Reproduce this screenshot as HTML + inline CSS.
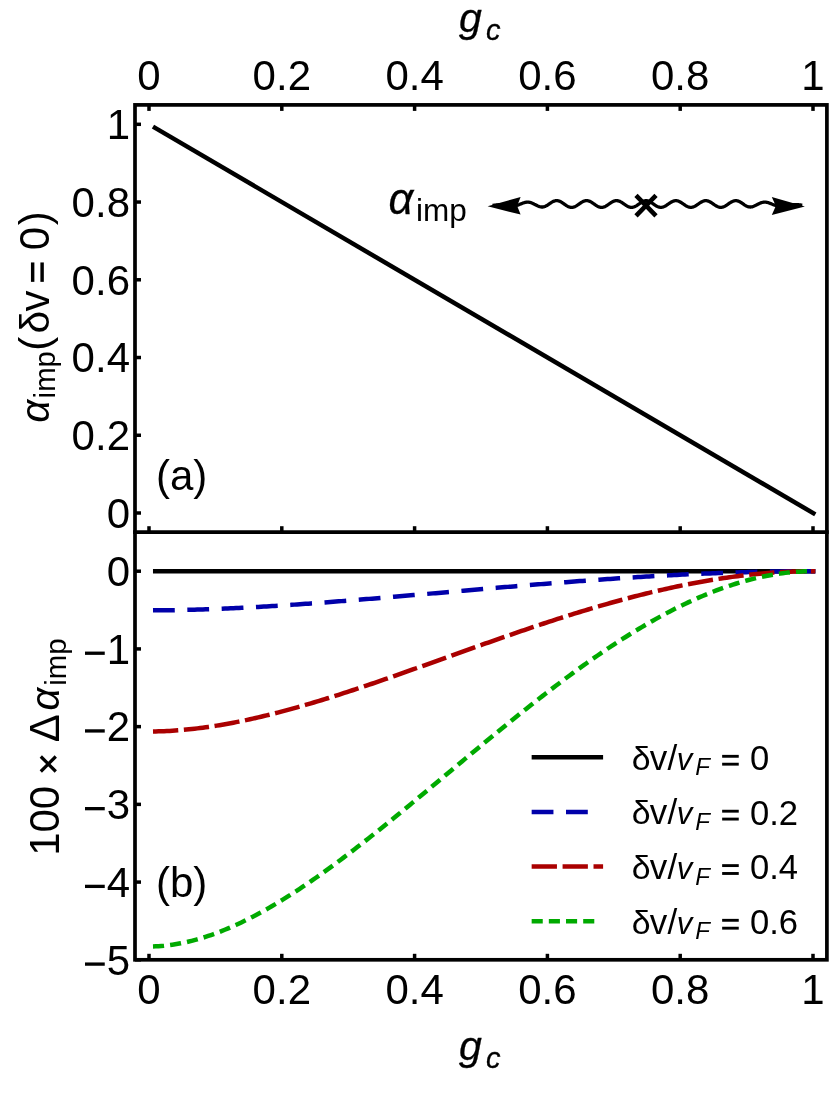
<!DOCTYPE html>
<html><head><meta charset="utf-8"><title>Figure</title>
<style>
html,body{margin:0;padding:0;background:#fff;}
svg{display:block;will-change:transform;}
text{font-family:"Liberation Sans",sans-serif;fill:#000;}
</style></head><body>
<svg width="830" height="1116" viewBox="0 0 830 1116">
<rect width="830" height="1116" fill="#fff"/>
<path d="M152.98 126.63 L815.32 514.36" stroke="#000" stroke-width="4.5" fill="none"/>
<path d="M152.98 571.20 L155.76 571.20 L158.53 571.20 L161.30 571.20 L164.07 571.20 L166.84 571.20 L169.61 571.20 L172.38 571.20 L175.15 571.20 L177.93 571.20 L180.70 571.20 L183.47 571.20 L186.24 571.20 L189.01 571.20 L191.78 571.20 L194.55 571.20 L197.32 571.20 L200.10 571.20 L202.87 571.20 L205.64 571.20 L208.41 571.20 L211.18 571.20 L213.95 571.20 L216.72 571.20 L219.50 571.20 L222.27 571.20 L225.04 571.20 L227.81 571.20 L230.58 571.20 L233.35 571.20 L236.12 571.20 L238.89 571.20 L241.67 571.20 L244.44 571.20 L247.21 571.20 L249.98 571.20 L252.75 571.20 L255.52 571.20 L258.29 571.20 L261.06 571.20 L263.84 571.20 L266.61 571.20 L269.38 571.20 L272.15 571.20 L274.92 571.20 L277.69 571.20 L280.46 571.20 L283.23 571.20 L286.01 571.20 L288.78 571.20 L291.55 571.20 L294.32 571.20 L297.09 571.20 L299.86 571.20 L302.63 571.20 L305.41 571.20 L308.18 571.20 L310.95 571.20 L313.72 571.20 L316.49 571.20 L319.26 571.20 L322.03 571.20 L324.80 571.20 L327.58 571.20 L330.35 571.20 L333.12 571.20 L335.89 571.20 L338.66 571.20 L341.43 571.20 L344.20 571.20 L346.97 571.20 L349.75 571.20 L352.52 571.20 L355.29 571.20 L358.06 571.20 L360.83 571.20 L363.60 571.20 L366.37 571.20 L369.15 571.20 L371.92 571.20 L374.69 571.20 L377.46 571.20 L380.23 571.20 L383.00 571.20 L385.77 571.20 L388.54 571.20 L391.32 571.20 L394.09 571.20 L396.86 571.20 L399.63 571.20 L402.40 571.20 L405.17 571.20 L407.94 571.20 L410.71 571.20 L413.49 571.20 L416.26 571.20 L419.03 571.20 L421.80 571.20 L424.57 571.20 L427.34 571.20 L430.11 571.20 L432.89 571.20 L435.66 571.20 L438.43 571.20 L441.20 571.20 L443.97 571.20 L446.74 571.20 L449.51 571.20 L452.28 571.20 L455.06 571.20 L457.83 571.20 L460.60 571.20 L463.37 571.20 L466.14 571.20 L468.91 571.20 L471.68 571.20 L474.45 571.20 L477.23 571.20 L480.00 571.20 L482.77 571.20 L485.54 571.20 L488.31 571.20 L491.08 571.20 L493.85 571.20 L496.62 571.20 L499.40 571.20 L502.17 571.20 L504.94 571.20 L507.71 571.20 L510.48 571.20 L513.25 571.20 L516.02 571.20 L518.80 571.20 L521.57 571.20 L524.34 571.20 L527.11 571.20 L529.88 571.20 L532.65 571.20 L535.42 571.20 L538.19 571.20 L540.97 571.20 L543.74 571.20 L546.51 571.20 L549.28 571.20 L552.05 571.20 L554.82 571.20 L557.59 571.20 L560.36 571.20 L563.14 571.20 L565.91 571.20 L568.68 571.20 L571.45 571.20 L574.22 571.20 L576.99 571.20 L579.76 571.20 L582.54 571.20 L585.31 571.20 L588.08 571.20 L590.85 571.20 L593.62 571.20 L596.39 571.20 L599.16 571.20 L601.93 571.20 L604.71 571.20 L607.48 571.20 L610.25 571.20 L613.02 571.20 L615.79 571.20 L618.56 571.20 L621.33 571.20 L624.10 571.20 L626.88 571.20 L629.65 571.20 L632.42 571.20 L635.19 571.20 L637.96 571.20 L640.73 571.20 L643.50 571.20 L646.27 571.20 L649.05 571.20 L651.82 571.20 L654.59 571.20 L657.36 571.20 L660.13 571.20 L662.90 571.20 L665.67 571.20 L668.45 571.20 L671.22 571.20 L673.99 571.20 L676.76 571.20 L679.53 571.20 L682.30 571.20 L685.07 571.20 L687.84 571.20 L690.62 571.20 L693.39 571.20 L696.16 571.20 L698.93 571.20 L701.70 571.20 L704.47 571.20 L707.24 571.20 L710.01 571.20 L712.79 571.20 L715.56 571.20 L718.33 571.20 L721.10 571.20 L723.87 571.20 L726.64 571.20 L729.41 571.20 L732.19 571.20 L734.96 571.20 L737.73 571.20 L740.50 571.20 L743.27 571.20 L746.04 571.20 L748.81 571.20 L751.58 571.20 L754.36 571.20 L757.13 571.20 L759.90 571.20 L762.67 571.20 L765.44 571.20 L768.21 571.20 L770.98 571.20 L773.75 571.20 L776.53 571.20 L779.30 571.20 L782.07 571.20 L784.84 571.20 L787.61 571.20 L790.38 571.20 L793.15 571.20 L795.92 571.20 L798.70 571.20 L801.47 571.20 L804.24 571.20 L807.01 571.20 L809.78 571.20 L812.55 571.20 L815.32 571.20" stroke="#000000" stroke-width="4.5" fill="none"/>
<path d="M152.98 610.35 L155.76 610.34 L158.53 610.32 L161.30 610.30 L164.07 610.28 L166.84 610.24 L169.61 610.21 L172.38 610.17 L175.15 610.12 L177.93 610.07 L180.70 610.02 L183.47 609.96 L186.24 609.90 L189.01 609.83 L191.78 609.75 L194.55 609.68 L197.32 609.60 L200.10 609.51 L202.87 609.42 L205.64 609.33 L208.41 609.23 L211.18 609.13 L213.95 609.03 L216.72 608.92 L219.50 608.81 L222.27 608.69 L225.04 608.57 L227.81 608.45 L230.58 608.33 L233.35 608.20 L236.12 608.06 L238.89 607.93 L241.67 607.79 L244.44 607.65 L247.21 607.50 L249.98 607.35 L252.75 607.20 L255.52 607.05 L258.29 606.89 L261.06 606.73 L263.84 606.57 L266.61 606.40 L269.38 606.24 L272.15 606.07 L274.92 605.89 L277.69 605.72 L280.46 605.54 L283.23 605.36 L286.01 605.18 L288.78 605.00 L291.55 604.81 L294.32 604.62 L297.09 604.43 L299.86 604.24 L302.63 604.04 L305.41 603.84 L308.18 603.65 L310.95 603.44 L313.72 603.24 L316.49 603.04 L319.26 602.83 L322.03 602.62 L324.80 602.41 L327.58 602.20 L330.35 601.99 L333.12 601.78 L335.89 601.56 L338.66 601.34 L341.43 601.12 L344.20 600.90 L346.97 600.68 L349.75 600.46 L352.52 600.24 L355.29 600.01 L358.06 599.79 L360.83 599.56 L363.60 599.33 L366.37 599.10 L369.15 598.87 L371.92 598.64 L374.69 598.41 L377.46 598.17 L380.23 597.94 L383.00 597.71 L385.77 597.47 L388.54 597.23 L391.32 597.00 L394.09 596.76 L396.86 596.52 L399.63 596.28 L402.40 596.04 L405.17 595.80 L407.94 595.56 L410.71 595.32 L413.49 595.08 L416.26 594.84 L419.03 594.60 L421.80 594.36 L424.57 594.11 L427.34 593.87 L430.11 593.63 L432.89 593.38 L435.66 593.14 L438.43 592.90 L441.20 592.65 L443.97 592.41 L446.74 592.17 L449.51 591.92 L452.28 591.68 L455.06 591.44 L457.83 591.20 L460.60 590.95 L463.37 590.71 L466.14 590.47 L468.91 590.23 L471.68 589.98 L474.45 589.74 L477.23 589.50 L480.00 589.26 L482.77 589.02 L485.54 588.78 L488.31 588.54 L491.08 588.30 L493.85 588.06 L496.62 587.82 L499.40 587.59 L502.17 587.35 L504.94 587.11 L507.71 586.88 L510.48 586.64 L513.25 586.41 L516.02 586.18 L518.80 585.94 L521.57 585.71 L524.34 585.48 L527.11 585.25 L529.88 585.02 L532.65 584.80 L535.42 584.57 L538.19 584.34 L540.97 584.12 L543.74 583.89 L546.51 583.67 L549.28 583.45 L552.05 583.23 L554.82 583.01 L557.59 582.79 L560.36 582.57 L563.14 582.36 L565.91 582.14 L568.68 581.93 L571.45 581.72 L574.22 581.51 L576.99 581.30 L579.76 581.09 L582.54 580.89 L585.31 580.68 L588.08 580.48 L590.85 580.27 L593.62 580.07 L596.39 579.88 L599.16 579.68 L601.93 579.48 L604.71 579.29 L607.48 579.10 L610.25 578.91 L613.02 578.72 L615.79 578.53 L618.56 578.34 L621.33 578.16 L624.10 577.98 L626.88 577.80 L629.65 577.62 L632.42 577.44 L635.19 577.27 L637.96 577.10 L640.73 576.93 L643.50 576.76 L646.27 576.59 L649.05 576.43 L651.82 576.27 L654.59 576.11 L657.36 575.95 L660.13 575.79 L662.90 575.64 L665.67 575.49 L668.45 575.34 L671.22 575.19 L673.99 575.05 L676.76 574.90 L679.53 574.76 L682.30 574.62 L685.07 574.49 L687.84 574.36 L690.62 574.23 L693.39 574.10 L696.16 573.97 L698.93 573.85 L701.70 573.73 L704.47 573.61 L707.24 573.49 L710.01 573.38 L712.79 573.27 L715.56 573.16 L718.33 573.05 L721.10 572.95 L723.87 572.85 L726.64 572.75 L729.41 572.66 L732.19 572.57 L734.96 572.48 L737.73 572.39 L740.50 572.31 L743.27 572.23 L746.04 572.15 L748.81 572.07 L751.58 572.00 L754.36 571.93 L757.13 571.87 L759.90 571.80 L762.67 571.74 L765.44 571.69 L768.21 571.63 L770.98 571.58 L773.75 571.53 L776.53 571.49 L779.30 571.45 L782.07 571.41 L784.84 571.37 L787.61 571.34 L790.38 571.31 L793.15 571.29 L795.92 571.26 L798.70 571.25 L801.47 571.23 L804.24 571.22 L807.01 571.21 L809.78 571.20 L812.55 571.20 L815.32 571.20" stroke="#0000aa" stroke-width="4.5" fill="none" stroke-dasharray="21.8 12.55"/>
<path d="M152.98 731.44 L155.76 731.40 L158.53 731.34 L161.30 731.25 L164.07 731.15 L166.84 731.02 L169.61 730.88 L172.38 730.71 L175.15 730.53 L177.93 730.32 L180.70 730.10 L183.47 729.86 L186.24 729.60 L189.01 729.32 L191.78 729.03 L194.55 728.72 L197.32 728.39 L200.10 728.04 L202.87 727.68 L205.64 727.30 L208.41 726.91 L211.18 726.50 L213.95 726.07 L216.72 725.63 L219.50 725.18 L222.27 724.71 L225.04 724.22 L227.81 723.72 L230.58 723.21 L233.35 722.68 L236.12 722.14 L238.89 721.59 L241.67 721.03 L244.44 720.45 L247.21 719.86 L249.98 719.25 L252.75 718.64 L255.52 718.01 L258.29 717.37 L261.06 716.72 L263.84 716.06 L266.61 715.39 L269.38 714.71 L272.15 714.02 L274.92 713.31 L277.69 712.60 L280.46 711.88 L283.23 711.14 L286.01 710.40 L288.78 709.65 L291.55 708.89 L294.32 708.12 L297.09 707.34 L299.86 706.56 L302.63 705.76 L305.41 704.96 L308.18 704.15 L310.95 703.33 L313.72 702.51 L316.49 701.67 L319.26 700.83 L322.03 699.99 L324.80 699.13 L327.58 698.27 L330.35 697.40 L333.12 696.53 L335.89 695.65 L338.66 694.77 L341.43 693.88 L344.20 692.98 L346.97 692.08 L349.75 691.17 L352.52 690.26 L355.29 689.34 L358.06 688.42 L360.83 687.49 L363.60 686.56 L366.37 685.63 L369.15 684.69 L371.92 683.75 L374.69 682.80 L377.46 681.85 L380.23 680.89 L383.00 679.94 L385.77 678.98 L388.54 678.01 L391.32 677.05 L394.09 676.08 L396.86 675.11 L399.63 674.13 L402.40 673.16 L405.17 672.18 L407.94 671.20 L410.71 670.21 L413.49 669.23 L416.26 668.25 L419.03 667.26 L421.80 666.27 L424.57 665.28 L427.34 664.29 L430.11 663.30 L432.89 662.31 L435.66 661.31 L438.43 660.32 L441.20 659.33 L443.97 658.33 L446.74 657.34 L449.51 656.35 L452.28 655.35 L455.06 654.36 L457.83 653.37 L460.60 652.38 L463.37 651.38 L466.14 650.39 L468.91 649.40 L471.68 648.42 L474.45 647.43 L477.23 646.44 L480.00 645.46 L482.77 644.48 L485.54 643.49 L488.31 642.51 L491.08 641.54 L493.85 640.56 L496.62 639.59 L499.40 638.62 L502.17 637.65 L504.94 636.68 L507.71 635.72 L510.48 634.76 L513.25 633.80 L516.02 632.85 L518.80 631.90 L521.57 630.95 L524.34 630.01 L527.11 629.07 L529.88 628.13 L532.65 627.20 L535.42 626.27 L538.19 625.34 L540.97 624.42 L543.74 623.50 L546.51 622.59 L549.28 621.68 L552.05 620.78 L554.82 619.88 L557.59 618.98 L560.36 618.09 L563.14 617.21 L565.91 616.33 L568.68 615.45 L571.45 614.58 L574.22 613.72 L576.99 612.86 L579.76 612.01 L582.54 611.16 L585.31 610.32 L588.08 609.49 L590.85 608.66 L593.62 607.83 L596.39 607.02 L599.16 606.21 L601.93 605.40 L604.71 604.61 L607.48 603.82 L610.25 603.03 L613.02 602.26 L615.79 601.49 L618.56 600.72 L621.33 599.97 L624.10 599.22 L626.88 598.48 L629.65 597.75 L632.42 597.02 L635.19 596.30 L637.96 595.59 L640.73 594.89 L643.50 594.20 L646.27 593.51 L649.05 592.84 L651.82 592.17 L654.59 591.51 L657.36 590.86 L660.13 590.21 L662.90 589.58 L665.67 588.95 L668.45 588.34 L671.22 587.73 L673.99 587.13 L676.76 586.54 L679.53 585.97 L682.30 585.40 L685.07 584.84 L687.84 584.29 L690.62 583.74 L693.39 583.21 L696.16 582.69 L698.93 582.18 L701.70 581.68 L704.47 581.19 L707.24 580.71 L710.01 580.24 L712.79 579.79 L715.56 579.34 L718.33 578.90 L721.10 578.48 L723.87 578.06 L726.64 577.66 L729.41 577.26 L732.19 576.88 L734.96 576.51 L737.73 576.15 L740.50 575.81 L743.27 575.47 L746.04 575.15 L748.81 574.84 L751.58 574.54 L754.36 574.25 L757.13 573.98 L759.90 573.71 L762.67 573.46 L765.44 573.23 L768.21 573.00 L770.98 572.79 L773.75 572.59 L776.53 572.40 L779.30 572.23 L782.07 572.07 L784.84 571.92 L787.61 571.79 L790.38 571.67 L793.15 571.56 L795.92 571.47 L798.70 571.39 L801.47 571.32 L804.24 571.27 L807.01 571.23 L809.78 571.21 L812.55 571.20 L815.32 571.21" stroke="#aa0000" stroke-width="4.5" fill="none" stroke-dasharray="25.3 5.63"/>
<path d="M152.98 946.42 L155.75 946.32 L158.51 946.17 L161.27 945.98 L164.03 945.74 L166.79 945.45 L169.55 945.12 L172.32 944.74 L175.08 944.31 L177.84 943.84 L180.60 943.33 L183.36 942.78 L186.12 942.18 L188.88 941.54 L191.65 940.87 L194.41 940.15 L197.17 939.39 L199.93 938.59 L202.69 937.76 L205.45 936.89 L208.22 935.98 L210.98 935.04 L213.74 934.06 L216.50 933.04 L219.26 931.99 L222.02 930.91 L224.78 929.79 L227.55 928.64 L230.31 927.46 L233.07 926.25 L235.83 925.00 L238.59 923.73 L241.35 922.43 L244.12 921.09 L246.88 919.73 L249.64 918.34 L252.40 916.92 L255.16 915.47 L257.92 914.00 L260.69 912.50 L263.45 910.98 L266.21 909.43 L268.97 907.85 L271.73 906.25 L274.49 904.63 L277.25 902.98 L280.02 901.31 L282.78 899.62 L285.54 897.91 L288.30 896.17 L291.06 894.42 L293.82 892.64 L296.59 890.85 L299.35 889.03 L302.11 887.19 L304.87 885.34 L307.63 883.47 L310.39 881.58 L313.16 879.67 L315.92 877.74 L318.68 875.80 L321.44 873.84 L324.20 871.87 L326.96 869.88 L329.72 867.88 L332.49 865.86 L335.25 863.82 L338.01 861.78 L340.77 859.72 L343.53 857.64 L346.29 855.56 L349.06 853.46 L351.82 851.35 L354.58 849.23 L357.34 847.09 L360.10 844.95 L362.86 842.80 L365.63 840.63 L368.39 838.46 L371.15 836.28 L373.91 834.08 L376.67 831.88 L379.43 829.67 L382.19 827.46 L384.96 825.23 L387.72 823.00 L390.48 820.76 L393.24 818.51 L396.00 816.26 L398.76 814.01 L401.53 811.74 L404.29 809.47 L407.05 807.20 L409.81 804.92 L412.57 802.64 L415.33 800.35 L418.10 798.06 L420.86 795.77 L423.62 793.48 L426.38 791.18 L429.14 788.88 L431.90 786.57 L434.66 784.27 L437.43 781.96 L440.19 779.65 L442.95 777.35 L445.71 775.04 L448.47 772.73 L451.23 770.42 L454.00 768.11 L456.76 765.80 L459.52 763.49 L462.28 761.19 L465.04 758.88 L467.80 756.58 L470.56 754.28 L473.33 751.98 L476.09 749.69 L478.85 747.40 L481.61 745.11 L484.37 742.82 L487.13 740.54 L489.90 738.26 L492.66 735.99 L495.42 733.72 L498.18 731.46 L500.94 729.20 L503.70 726.94 L506.47 724.70 L509.23 722.46 L511.99 720.22 L514.75 717.99 L517.51 715.77 L520.27 713.56 L523.03 711.35 L525.80 709.15 L528.56 706.96 L531.32 704.77 L534.08 702.60 L536.84 700.43 L539.60 698.27 L542.37 696.13 L545.13 693.99 L547.89 691.86 L550.65 689.74 L553.41 687.63 L556.17 685.53 L558.94 683.44 L561.70 681.37 L564.46 679.30 L567.22 677.25 L569.98 675.21 L572.74 673.18 L575.50 671.16 L578.27 669.15 L581.03 667.16 L583.79 665.18 L586.55 663.22 L589.31 661.26 L592.07 659.32 L594.84 657.40 L597.60 655.49 L600.36 653.59 L603.12 651.71 L605.88 649.85 L608.64 648.00 L611.41 646.16 L614.17 644.34 L616.93 642.54 L619.69 640.75 L622.45 638.98 L625.21 637.23 L627.97 635.49 L630.74 633.78 L633.50 632.07 L636.26 630.39 L639.02 628.73 L641.78 627.08 L644.54 625.45 L647.31 623.84 L650.07 622.25 L652.83 620.68 L655.59 619.13 L658.35 617.59 L661.11 616.08 L663.88 614.59 L666.64 613.12 L669.40 611.67 L672.16 610.24 L674.92 608.83 L677.68 607.45 L680.44 606.08 L683.21 604.74 L685.97 603.42 L688.73 602.12 L691.49 600.85 L694.25 599.59 L697.01 598.37 L699.78 597.16 L702.54 595.98 L705.30 594.82 L708.06 593.69 L710.82 592.58 L713.58 591.50 L716.34 590.44 L719.11 589.41 L721.87 588.40 L724.63 587.42 L727.39 586.46 L730.15 585.53 L732.91 584.63 L735.68 583.76 L738.44 582.91 L741.20 582.09 L743.96 581.29 L746.72 580.53 L749.48 579.79 L752.25 579.08 L755.01 578.40 L757.77 577.75 L760.53 577.13 L763.29 576.53 L766.05 575.97 L768.81 575.44 L771.58 574.93 L774.34 574.46 L777.10 574.02 L779.86 573.61 L782.62 573.23 L785.38 572.88 L788.15 572.57 L790.91 572.28 L793.67 572.03 L796.43 571.81 L799.19 571.63 L801.95 571.47 L804.72 571.35 L807.48 571.27 L810.24 571.22 L813.00 571.20" stroke="#00aa00" stroke-width="4.5" fill="none" stroke-dasharray="11.1 6.08"/>
<g stroke="#000" fill="none" stroke-width="3.7" stroke-linecap="square">
<rect x="135.0" y="104.9" width="691.9" height="854.9"/>
<line x1="135.0" y1="532.2" x2="826.9" y2="532.2"/>
</g>
<g stroke="#000" stroke-width="3.5">
<line x1="149.00" y1="104.9" x2="149.00" y2="110.9"/>
<line x1="149.00" y1="532.2" x2="149.00" y2="526.2"/>
<line x1="149.00" y1="959.8" x2="149.00" y2="953.8"/>
<line x1="135.0" y1="513.00" x2="141.0" y2="513.00"/>
<line x1="135.0" y1="571.20" x2="141.0" y2="571.20"/>
<line x1="281.80" y1="104.9" x2="281.80" y2="110.9"/>
<line x1="281.80" y1="532.2" x2="281.80" y2="526.2"/>
<line x1="281.80" y1="959.8" x2="281.80" y2="953.8"/>
<line x1="135.0" y1="435.26" x2="141.0" y2="435.26"/>
<line x1="135.0" y1="648.92" x2="141.0" y2="648.92"/>
<line x1="414.60" y1="104.9" x2="414.60" y2="110.9"/>
<line x1="414.60" y1="532.2" x2="414.60" y2="526.2"/>
<line x1="414.60" y1="959.8" x2="414.60" y2="953.8"/>
<line x1="135.0" y1="357.52" x2="141.0" y2="357.52"/>
<line x1="135.0" y1="726.64" x2="141.0" y2="726.64"/>
<line x1="547.40" y1="104.9" x2="547.40" y2="110.9"/>
<line x1="547.40" y1="532.2" x2="547.40" y2="526.2"/>
<line x1="547.40" y1="959.8" x2="547.40" y2="953.8"/>
<line x1="135.0" y1="279.78" x2="141.0" y2="279.78"/>
<line x1="135.0" y1="804.36" x2="141.0" y2="804.36"/>
<line x1="680.20" y1="104.9" x2="680.20" y2="110.9"/>
<line x1="680.20" y1="532.2" x2="680.20" y2="526.2"/>
<line x1="680.20" y1="959.8" x2="680.20" y2="953.8"/>
<line x1="135.0" y1="202.04" x2="141.0" y2="202.04"/>
<line x1="135.0" y1="882.08" x2="141.0" y2="882.08"/>
<line x1="813.00" y1="104.9" x2="813.00" y2="110.9"/>
<line x1="813.00" y1="532.2" x2="813.00" y2="526.2"/>
<line x1="813.00" y1="959.8" x2="813.00" y2="953.8"/>
<line x1="135.0" y1="124.30" x2="141.0" y2="124.30"/>
<line x1="135.0" y1="959.80" x2="141.0" y2="959.80"/>
</g>
<text transform="translate(149.00 90.20) scale(1 1.03)" font-size="42.0" text-anchor="middle" >0</text>
<text transform="translate(149.00 1004.30) scale(1 1.03)" font-size="42.0" text-anchor="middle" >0</text>
<text transform="translate(130.00 527.80) scale(1 1.03)" font-size="42.0" text-anchor="end" >0</text>
<text transform="translate(281.80 90.20) scale(1 1.03)" font-size="42.0" text-anchor="middle" >0.2</text>
<text transform="translate(281.80 1004.30) scale(1 1.03)" font-size="42.0" text-anchor="middle" >0.2</text>
<text transform="translate(130.00 450.06) scale(1 1.03)" font-size="42.0" text-anchor="end" >0.2</text>
<text transform="translate(414.60 90.20) scale(1 1.03)" font-size="42.0" text-anchor="middle" >0.4</text>
<text transform="translate(414.60 1004.30) scale(1 1.03)" font-size="42.0" text-anchor="middle" >0.4</text>
<text transform="translate(130.00 372.32) scale(1 1.03)" font-size="42.0" text-anchor="end" >0.4</text>
<text transform="translate(547.40 90.20) scale(1 1.03)" font-size="42.0" text-anchor="middle" >0.6</text>
<text transform="translate(547.40 1004.30) scale(1 1.03)" font-size="42.0" text-anchor="middle" >0.6</text>
<text transform="translate(130.00 294.58) scale(1 1.03)" font-size="42.0" text-anchor="end" >0.6</text>
<text transform="translate(680.20 90.20) scale(1 1.03)" font-size="42.0" text-anchor="middle" >0.8</text>
<text transform="translate(680.20 1004.30) scale(1 1.03)" font-size="42.0" text-anchor="middle" >0.8</text>
<text transform="translate(130.00 216.84) scale(1 1.03)" font-size="42.0" text-anchor="end" >0.8</text>
<text transform="translate(813.00 90.20) scale(1 1.03)" font-size="42.0" text-anchor="middle" >1</text>
<text transform="translate(813.00 1004.30) scale(1 1.03)" font-size="42.0" text-anchor="middle" >1</text>
<text transform="translate(130.00 139.10) scale(1 1.03)" font-size="42.0" text-anchor="end" >1</text>
<text transform="translate(130.00 586.00) scale(1 1.03)" font-size="42.0" text-anchor="end" >0</text>
<rect x="85.0" y="651.57" width="19.75" height="3.3" fill="#000"/><text transform="translate(130.00 663.72) scale(1 1.03)" font-size="42.0" text-anchor="end" >1</text>
<rect x="85.0" y="729.29" width="19.75" height="3.3" fill="#000"/><text transform="translate(130.00 741.44) scale(1 1.03)" font-size="42.0" text-anchor="end" >2</text>
<rect x="85.0" y="807.01" width="19.75" height="3.3" fill="#000"/><text transform="translate(130.00 819.16) scale(1 1.03)" font-size="42.0" text-anchor="end" >3</text>
<rect x="85.0" y="884.73" width="19.75" height="3.3" fill="#000"/><text transform="translate(130.00 896.88) scale(1 1.03)" font-size="42.0" text-anchor="end" >4</text>
<rect x="85.0" y="962.45" width="19.75" height="3.3" fill="#000"/><text transform="translate(130.00 974.60) scale(1 1.03)" font-size="42.0" text-anchor="end" >5</text>
<text x="459.00" y="32.00" font-size="41" font-style="italic" text-anchor="start" stroke="#000" stroke-width="0.3">g</text><text x="486.03" y="40.00" font-size="29" font-style="italic" text-anchor="start" stroke="#000" stroke-width="0.3">c</text>
<text x="459.00" y="1060.30" font-size="41" font-style="italic" text-anchor="start" stroke="#000" stroke-width="0.3">g</text><text x="486.03" y="1068.30" font-size="29" font-style="italic" text-anchor="start" stroke="#000" stroke-width="0.3">c</text>
<text x="156.00" y="489.50" font-size="42.0" text-anchor="start" >(a)</text>
<text x="156.00" y="897.30" font-size="42.0" text-anchor="start" >(b)</text>
<g transform="translate(48.5 421.0) rotate(-90)">
<text x="-1.83" y="0.00" font-size="40.5" font-style="italic" text-anchor="start" >α</text>
<text x="22.64" y="6.30" font-size="29.3" text-anchor="start" >imp</text>
<text x="70.20" y="0.00" font-size="42.0" text-anchor="start" >(</text>
<text x="87.62" y="0.00" font-size="41" text-anchor="start" >δ</text>
<text x="109.46" y="0.00" font-size="42.0" text-anchor="start" >v</text>
<rect x="139.15" y="-17.56" width="19.40" height="3.44" fill="#000"/><rect x="139.15" y="-8.11" width="19.40" height="3.44" fill="#000"/>
<text transform="translate(170.86 0.00) scale(1 1.03)" font-size="42.0" text-anchor="start" >0</text>
<text x="195.65" y="0.00" font-size="42.0" text-anchor="start" >)</text>
</g>
<g transform="translate(58.9 851.3) rotate(-90)">
<text transform="translate(-4.57 0.00) scale(1 1.03)" font-size="42.0" text-anchor="start" >1</text>
<text transform="translate(18.79 0.00) scale(1 1.03)" font-size="42.0" text-anchor="start" >00</text>
<path d="M79.8 -18.1 L94.8 -3.1 M79.8 -3.1 L94.8 -18.1" stroke="#000" stroke-width="3.2" fill="none"/>
<text x="109.05" y="0.00" font-size="42.0" text-anchor="start" >Δ</text>
<text x="140.70" y="0.00" font-size="40" font-style="italic" text-anchor="start" >α</text>
<text x="165.53" y="6.60" font-size="29.5" text-anchor="start" >imp</text>
</g>
<text x="388.60" y="213.90" font-size="43.5" font-style="italic" text-anchor="start" stroke="#000" stroke-width="0.3">α</text><text x="416.07" y="220.60" font-size="31.5" text-anchor="start" >imp</text>
<path d="M492.50 205.39 L493.02 205.33 L493.53 205.27 L494.05 205.20 L494.57 205.14 L495.09 205.08 L495.60 205.02 L496.12 204.96 L496.64 204.91 L497.15 204.87 L497.67 204.83 L498.19 204.80 L498.71 204.77 L499.22 204.76 L499.74 204.76 L500.26 204.76 L500.78 204.78 L501.29 204.80 L501.81 204.84 L502.33 204.89 L502.84 204.94 L503.36 205.01 L503.88 205.08 L504.40 205.16 L504.91 205.24 L505.43 205.33 L505.95 205.43 L506.46 205.52 L506.98 205.61 L507.50 205.71 L508.02 205.80 L508.53 205.88 L509.05 205.96 L509.57 206.03 L510.08 206.09 L510.60 206.14 L511.12 206.17 L511.64 206.20 L512.15 206.20 L512.67 206.19 L513.19 206.16 L513.71 206.11 L514.22 206.05 L514.74 205.97 L515.26 205.87 L515.77 205.75 L516.29 205.62 L516.81 205.47 L517.33 205.30 L517.84 205.12 L518.36 204.93 L518.88 204.74 L519.39 204.53 L519.91 204.32 L520.43 204.10 L520.95 203.88 L521.46 203.67 L521.98 203.46 L522.50 203.26 L523.01 203.06 L523.53 202.88 L524.05 202.72 L524.57 202.57 L525.08 202.44 L525.60 202.33 L526.12 202.24 L526.63 202.18 L527.15 202.14 L527.67 202.13 L528.19 202.14 L528.70 202.19 L529.22 202.26 L529.74 202.35 L530.26 202.47 L530.77 202.62 L531.29 202.79 L531.81 202.98 L532.32 203.19 L532.84 203.42 L533.36 203.66 L533.88 203.91 L534.39 204.18 L534.91 204.44 L535.43 204.71 L535.94 204.98 L536.46 205.25 L536.98 205.51 L537.50 205.77 L538.01 206.01 L538.53 206.23 L539.05 206.43 L539.56 206.61 L540.08 206.75 L540.60 206.87 L541.12 206.95 L541.63 207.00 L542.15 207.01 L542.67 206.99 L543.19 206.93 L543.70 206.84 L544.22 206.71 L544.74 206.54 L545.25 206.34 L545.77 206.11 L546.29 205.85 L546.81 205.56 L547.32 205.25 L547.84 204.92 L548.36 204.56 L548.87 204.20 L549.39 203.84 L549.91 203.48 L550.43 203.12 L550.94 202.78 L551.46 202.45 L551.98 202.13 L552.49 201.84 L553.01 201.58 L553.53 201.34 L554.05 201.14 L554.56 200.97 L555.08 200.83 L555.60 200.73 L556.12 200.67 L556.63 200.65 L557.15 200.67 L557.67 200.73 L558.18 200.82 L558.70 200.96 L559.22 201.12 L559.74 201.33 L560.25 201.56 L560.77 201.83 L561.29 202.11 L561.80 202.42 L562.32 202.75 L562.84 203.10 L563.36 203.45 L563.87 203.81 L564.39 204.18 L564.91 204.54 L565.42 204.89 L565.94 205.24 L566.46 205.57 L566.98 205.88 L567.49 206.17 L568.01 206.43 L568.53 206.67 L569.04 206.87 L569.56 207.04 L570.08 207.18 L570.60 207.27 L571.11 207.33 L571.63 207.35 L572.15 207.33 L572.67 207.27 L573.18 207.17 L573.70 207.04 L574.22 206.87 L574.73 206.66 L575.25 206.43 L575.77 206.16 L576.29 205.87 L576.80 205.56 L577.32 205.23 L577.84 204.89 L578.35 204.53 L578.87 204.17 L579.39 203.81 L579.91 203.44 L580.42 203.09 L580.94 202.75 L581.46 202.42 L581.97 202.11 L582.49 201.82 L583.01 201.56 L583.53 201.32 L584.04 201.12 L584.56 200.95 L585.08 200.82 L585.60 200.72 L586.11 200.67 L586.63 200.65 L587.15 200.67 L587.66 200.73 L588.18 200.83 L588.70 200.97 L589.22 201.14 L589.73 201.35 L590.25 201.59 L590.77 201.85 L591.28 202.14 L591.80 202.45 L592.32 202.79 L592.84 203.13 L593.35 203.49 L593.87 203.85 L594.39 204.21 L594.90 204.57 L595.42 204.93 L595.94 205.27 L596.46 205.60 L596.97 205.91 L597.49 206.19 L598.01 206.45 L598.53 206.69 L599.04 206.89 L599.56 207.05 L600.08 207.19 L600.59 207.28 L601.11 207.33 L601.63 207.35 L602.15 207.33 L602.66 207.26 L603.18 207.16 L603.70 207.02 L604.21 206.85 L604.73 206.64 L605.25 206.40 L605.77 206.14 L606.28 205.84 L606.80 205.53 L607.32 205.20 L607.83 204.85 L608.35 204.50 L608.87 204.14 L609.39 203.77 L609.90 203.41 L610.42 203.06 L610.94 202.72 L611.45 202.39 L611.97 202.08 L612.49 201.79 L613.01 201.53 L613.52 201.30 L614.04 201.10 L614.56 200.94 L615.08 200.81 L615.59 200.72 L616.11 200.66 L616.63 200.65 L617.14 200.68 L617.66 200.74 L618.18 200.84 L618.70 200.98 L619.21 201.16 L619.73 201.37 L620.25 201.61 L620.76 201.88 L621.28 202.17 L621.80 202.48 L622.32 202.82 L622.83 203.16 L623.35 203.52 L623.87 203.88 L624.38 204.24 L624.90 204.60 L625.42 204.96 L625.94 205.30 L626.45 205.63 L626.97 205.93 L627.49 206.22 L628.01 206.48 L628.52 206.71 L629.04 206.90 L629.56 207.07 L630.07 207.20 L630.59 207.29 L631.11 207.34 L631.63 207.35 L632.14 207.32 L632.66 207.26 L633.18 207.15 L633.69 207.01 L634.21 206.83 L634.73 206.62 L635.25 206.38 L635.76 206.11 L636.28 205.82 L636.80 205.50 L637.31 205.17 L637.83 204.82 L638.35 204.46 L638.87 204.10 L639.38 203.74 L639.90 203.38 L640.42 203.03 L640.94 202.69 L641.45 202.36 L641.97 202.05 L642.49 201.77 L643.00 201.51 L643.52 201.28 L644.04 201.09 L644.56 200.92 L645.07 200.80 L645.59 200.71 L646.11 200.66 L646.62 200.69 L647.14 200.76 L647.66 200.88 L648.18 201.02 L648.69 201.21 L649.21 201.43 L649.73 201.67 L650.24 201.95 L650.76 202.25 L651.28 202.57 L651.80 202.90 L652.31 203.25 L652.83 203.61 L653.35 203.97 L653.86 204.33 L654.38 204.69 L654.90 205.04 L655.42 205.38 L655.93 205.71 L656.45 206.01 L656.97 206.29 L657.49 206.54 L658.00 206.76 L658.52 206.95 L659.04 207.10 L659.55 207.22 L660.07 207.30 L660.59 207.34 L661.11 207.35 L661.62 207.31 L662.14 207.23 L662.66 207.12 L663.17 206.97 L663.69 206.78 L664.21 206.56 L664.73 206.31 L665.24 206.04 L665.76 205.74 L666.28 205.42 L666.79 205.08 L667.31 204.73 L667.83 204.37 L668.35 204.01 L668.86 203.65 L669.38 203.29 L669.90 202.94 L670.42 202.60 L670.93 202.28 L671.45 201.98 L671.97 201.70 L672.48 201.45 L673.00 201.23 L673.52 201.04 L674.04 200.89 L674.55 200.77 L675.07 200.69 L675.59 200.66 L676.10 200.65 L676.62 200.69 L677.14 200.77 L677.66 200.89 L678.17 201.04 L678.69 201.23 L679.21 201.45 L679.72 201.70 L680.24 201.97 L680.76 202.27 L681.28 202.60 L681.79 202.93 L682.31 203.28 L682.83 203.64 L683.35 204.01 L683.86 204.37 L684.38 204.73 L684.90 205.08 L685.41 205.41 L685.93 205.73 L686.45 206.03 L686.97 206.31 L687.48 206.56 L688.00 206.78 L688.52 206.96 L689.03 207.12 L689.55 207.23 L690.07 207.31 L690.59 207.35 L691.10 207.34 L691.62 207.30 L692.14 207.22 L692.65 207.11 L693.17 206.95 L693.69 206.76 L694.21 206.54 L694.72 206.29 L695.24 206.01 L695.76 205.71 L696.27 205.39 L696.79 205.05 L697.31 204.70 L697.83 204.34 L698.34 203.98 L698.86 203.62 L699.38 203.26 L699.90 202.91 L700.41 202.57 L700.93 202.25 L701.45 201.95 L701.96 201.68 L702.48 201.43 L703.00 201.21 L703.52 201.03 L704.03 200.88 L704.55 200.76 L705.07 200.69 L705.58 200.65 L706.10 200.66 L706.62 200.70 L707.14 200.78 L707.65 200.90 L708.17 201.06 L708.69 201.25 L709.20 201.47 L709.72 201.72 L710.24 202.00 L710.76 202.30 L711.27 202.63 L711.79 202.97 L712.31 203.32 L712.83 203.68 L713.34 204.04 L713.86 204.40 L714.38 204.76 L714.89 205.11 L715.41 205.44 L715.93 205.76 L716.45 206.06 L716.96 206.33 L717.48 206.58 L718.00 206.80 L718.51 206.98 L719.03 207.13 L719.55 207.24 L720.07 207.31 L720.58 207.35 L721.10 207.34 L721.62 207.30 L722.13 207.21 L722.65 207.09 L723.17 206.94 L723.69 206.74 L724.20 206.52 L724.72 206.27 L725.24 205.99 L725.76 205.68 L726.27 205.36 L726.79 205.02 L727.31 204.67 L727.82 204.31 L728.34 203.94 L728.86 203.58 L729.38 203.22 L729.89 202.88 L730.41 202.54 L730.93 202.22 L731.44 201.93 L731.96 201.65 L732.48 201.41 L733.00 201.19 L733.51 201.01 L734.03 200.87 L734.55 200.76 L735.06 200.68 L735.58 200.65 L736.10 200.66 L736.62 200.71 L737.13 200.79 L737.65 200.91 L738.17 201.07 L738.68 201.27 L739.20 201.49 L739.72 201.75 L740.24 202.03 L740.75 202.33 L741.27 202.66 L741.79 203.00 L742.31 203.35 L742.82 203.71 L743.34 204.07 L743.86 204.43 L744.37 204.79 L744.89 205.13 L745.41 205.45 L745.93 205.75 L746.44 206.02 L746.96 206.26 L747.48 206.47 L747.99 206.65 L748.51 206.80 L749.03 206.90 L749.55 206.97 L750.06 207.01 L750.58 207.01 L751.10 206.97 L751.61 206.90 L752.13 206.80 L752.65 206.66 L753.17 206.50 L753.68 206.31 L754.20 206.09 L754.72 205.86 L755.24 205.61 L755.75 205.34 L756.27 205.07 L756.79 204.81 L757.30 204.54 L757.82 204.27 L758.34 204.01 L758.86 203.75 L759.37 203.51 L759.89 203.27 L760.41 203.06 L760.92 202.86 L761.44 202.68 L761.96 202.52 L762.48 202.39 L762.99 202.29 L763.51 202.21 L764.03 202.16 L764.54 202.13 L765.06 202.13 L765.58 202.16 L766.10 202.21 L766.61 202.29 L767.13 202.39 L767.65 202.52 L768.17 202.66 L768.68 202.82 L769.20 203.00 L769.72 203.19 L770.23 203.39 L770.75 203.59 L771.27 203.81 L771.79 204.02 L772.30 204.24 L772.82 204.45 L773.34 204.66 L773.85 204.86 L774.37 205.06 L774.89 205.24 L775.41 205.41 L775.92 205.56 L776.44 205.70 L776.96 205.83 L777.47 205.93 L777.99 206.02 L778.51 206.09 L779.03 206.15 L779.54 206.18 L780.06 206.20 L780.58 206.20 L781.09 206.18 L781.61 206.15 L782.13 206.11 L782.65 206.05 L783.16 205.99 L783.68 205.91 L784.20 205.83 L784.72 205.74 L785.23 205.65 L785.75 205.55 L786.27 205.46 L786.78 205.37 L787.30 205.27 L787.82 205.19 L788.34 205.11 L788.85 205.03 L789.37 204.96 L789.89 204.90 L790.40 204.83 L790.92 204.76 L791.44 204.70 L791.96 204.64 L792.47 204.60 L792.99 204.57 L793.51 204.55 L794.02 204.54 L794.54 204.53 L795.06 204.54 L795.58 204.55 L796.09 204.56 L796.61 204.59 L797.13 204.61 L797.65 204.64 L798.16 204.68 L798.68 204.74 L799.20 204.80 L799.71 204.87 L800.23 204.92 L800.75 204.98 L801.27 205.03 L801.78 205.07 L802.30 205.11" stroke="#000" stroke-width="3.3" fill="none" stroke-linejoin="round"/>
<path d="M487.6 206.2 L520.6 197.0 L517.2 205.9 L520.6 214.6 Z" fill="#000"/>
<path d="M804.9 206.5 L771.8 197.1 L775.8 205.9 L771.8 215.0 Z" fill="#000"/>
<path d="M636.0 195.4 L656.0 215.79999999999998 M636.0 215.79999999999998 L656.0 195.4" stroke="#000" stroke-width="4.6" fill="none"/>
<line x1="531.65" y1="757.2" x2="603.1" y2="757.2" stroke="#000000" stroke-width="4.5"/>
<text x="631.63" y="769.50" font-size="33.8" text-anchor="start" >δ</text>
<text x="649.78" y="769.50" font-size="35" text-anchor="start" >v</text>
<text x="667.60" y="769.50" font-size="35" text-anchor="start" >/</text>
<text x="676.76" y="769.50" font-size="31.2" font-style="italic" text-anchor="start" >v</text>
<text x="695.16" y="775.40" font-size="24" font-style="italic" text-anchor="start" >F</text>
<rect x="722.15" y="754.87" width="16.60" height="2.87" fill="#000"/><rect x="722.15" y="762.75" width="16.60" height="2.87" fill="#000"/>
<text transform="translate(749.95 769.80) scale(1 1.03)" font-size="34.6" text-anchor="start" >0</text>
<line x1="531.65" y1="812.1" x2="600.0" y2="812.1" stroke="#0000aa" stroke-width="4.5" stroke-dasharray="21.8 12.55"/>
<text x="631.63" y="824.40" font-size="33.8" text-anchor="start" >δ</text>
<text x="649.78" y="824.40" font-size="35" text-anchor="start" >v</text>
<text x="667.60" y="824.40" font-size="35" text-anchor="start" >/</text>
<text x="676.76" y="824.40" font-size="31.2" font-style="italic" text-anchor="start" >v</text>
<text x="695.16" y="830.30" font-size="24" font-style="italic" text-anchor="start" >F</text>
<rect x="722.15" y="809.77" width="16.60" height="2.87" fill="#000"/><rect x="722.15" y="817.64" width="16.60" height="2.87" fill="#000"/>
<text transform="translate(749.95 824.70) scale(1 1.03)" font-size="34.6" text-anchor="start" >0.2</text>
<line x1="531.65" y1="866.5" x2="603.1" y2="866.5" stroke="#aa0000" stroke-width="4.5" stroke-dasharray="25.3 5.63"/>
<text x="631.63" y="878.80" font-size="33.8" text-anchor="start" >δ</text>
<text x="649.78" y="878.80" font-size="35" text-anchor="start" >v</text>
<text x="667.60" y="878.80" font-size="35" text-anchor="start" >/</text>
<text x="676.76" y="878.80" font-size="31.2" font-style="italic" text-anchor="start" >v</text>
<text x="695.16" y="884.70" font-size="24" font-style="italic" text-anchor="start" >F</text>
<rect x="722.15" y="864.17" width="16.60" height="2.87" fill="#000"/><rect x="722.15" y="872.04" width="16.60" height="2.87" fill="#000"/>
<text transform="translate(749.95 879.10) scale(1 1.03)" font-size="34.6" text-anchor="start" >0.4</text>
<line x1="531.65" y1="921.2" x2="600.0" y2="921.2" stroke="#00aa00" stroke-width="4.5" stroke-dasharray="11.1 6.08"/>
<text x="631.63" y="933.50" font-size="33.8" text-anchor="start" >δ</text>
<text x="649.78" y="933.50" font-size="35" text-anchor="start" >v</text>
<text x="667.60" y="933.50" font-size="35" text-anchor="start" >/</text>
<text x="676.76" y="933.50" font-size="31.2" font-style="italic" text-anchor="start" >v</text>
<text x="695.16" y="939.40" font-size="24" font-style="italic" text-anchor="start" >F</text>
<rect x="722.15" y="918.87" width="16.60" height="2.87" fill="#000"/><rect x="722.15" y="926.75" width="16.60" height="2.87" fill="#000"/>
<text transform="translate(749.95 933.80) scale(1 1.03)" font-size="34.6" text-anchor="start" >0.6</text>
</svg></body></html>
